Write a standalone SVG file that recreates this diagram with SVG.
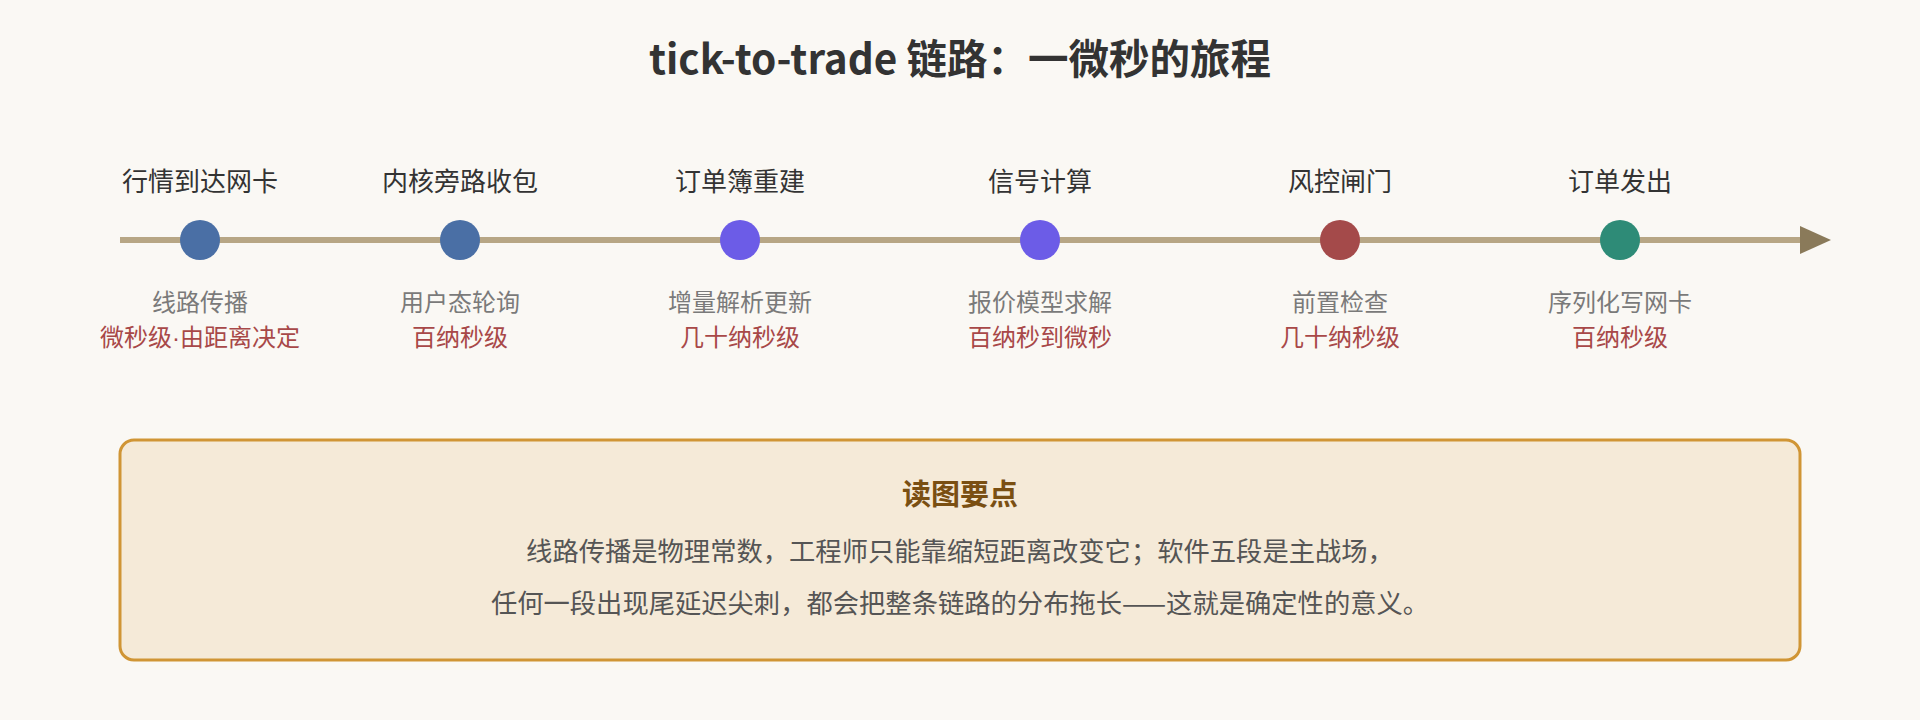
<svg xmlns="http://www.w3.org/2000/svg" width="1920" height="720" viewBox="0 0 1920 720">
  <defs>
    <marker id="arrow" markerUnits="userSpaceOnUse" markerWidth="32" markerHeight="28" refX="0" refY="14" orient="auto">
      <path d="M0,0 L31,14 L0,28 Z" fill="#8a7a5a"/>
    </marker>
    <style>
      text { font-family: "Noto Sans CJK SC", "Noto Sans", sans-serif; text-anchor: middle; }
      .title { font-size: 40.5px; font-weight: 700; fill: #333333; }
      .lbl { font-size: 26px; fill: #333333; }
      .sub { font-size: 24px; fill: #7a7a7a; }
      .lat { font-size: 24px; fill: #a84848; }
      .latin { font-family: "Liberation Sans", sans-serif; }
      .note-title { font-size: 29px; font-weight: 700; fill: #7a4f12; }
      .note { font-size: 26.3px; fill: #555555; }
      .dot { stroke: none; }
    </style>
  </defs>
  <rect x="0" y="0" width="1920" height="720" fill="#faf8f4"/>
  <text class="title" x="960" y="74">tick-to-trade 链路：一微秒的旅程</text>

  <g id="connectors">
    <line x1="120" y1="240" x2="1800" y2="240" stroke="#b7a685" stroke-width="6" marker-end="url(#arrow)"/>
  </g>

  <g id="n1">
    <text class="lbl" x="200" y="191">行情到达网卡</text>
    <circle class="dot" cx="200" cy="240" r="20" fill="#4a6fa5"/>
    <text class="sub" x="200" y="311">线路传播</text>
    <text class="lat" x="200" y="346">微秒级<tspan class="latin">·</tspan>由距离决定</text>
  </g>
  <g id="n2">
    <text class="lbl" x="460" y="191">内核旁路收包</text>
    <circle class="dot" cx="460" cy="240" r="20" fill="#4a6fa5"/>
    <text class="sub" x="460" y="311">用户态轮询</text>
    <text class="lat" x="460" y="346">百纳秒级</text>
  </g>
  <g id="n3">
    <text class="lbl" x="740" y="191">订单簿重建</text>
    <circle class="dot" cx="740" cy="240" r="20" fill="#6c5ce7"/>
    <text class="sub" x="740" y="311">增量解析更新</text>
    <text class="lat" x="740" y="346">几十纳秒级</text>
  </g>
  <g id="n4">
    <text class="lbl" x="1040" y="191">信号计算</text>
    <circle class="dot" cx="1040" cy="240" r="20" fill="#6c5ce7"/>
    <text class="sub" x="1040" y="311">报价模型求解</text>
    <text class="lat" x="1040" y="346">百纳秒到微秒</text>
  </g>
  <g id="n5">
    <text class="lbl" x="1340" y="191">风控闸门</text>
    <circle class="dot" cx="1340" cy="240" r="20" fill="#a44a4a"/>
    <text class="sub" x="1340" y="311">前置检查</text>
    <text class="lat" x="1340" y="346">几十纳秒级</text>
  </g>
  <g id="n6">
    <text class="lbl" x="1620" y="191">订单发出</text>
    <circle class="dot" cx="1620" cy="240" r="20" fill="#2e8b77"/>
    <text class="sub" x="1620" y="311">序列化写网卡</text>
    <text class="lat" x="1620" y="346">百纳秒级</text>
  </g>

  <g id="note">
    <rect x="120" y="440" width="1680" height="220" rx="14" ry="14" fill="#f5ead8" stroke="#d09535" stroke-width="3"/>
    <text class="note-title" x="960" y="505">读图要点</text>
    <text class="note" x="960" y="561">线路传播是物理常数，工程师只能靠缩短距离改变它；软件五段是主战场，</text>
    <text class="note" x="960" y="613">任何一段出现尾延迟尖刺，都会把整条链路的分布拖长——这就是确定性的意义。</text>
  </g>
</svg>
